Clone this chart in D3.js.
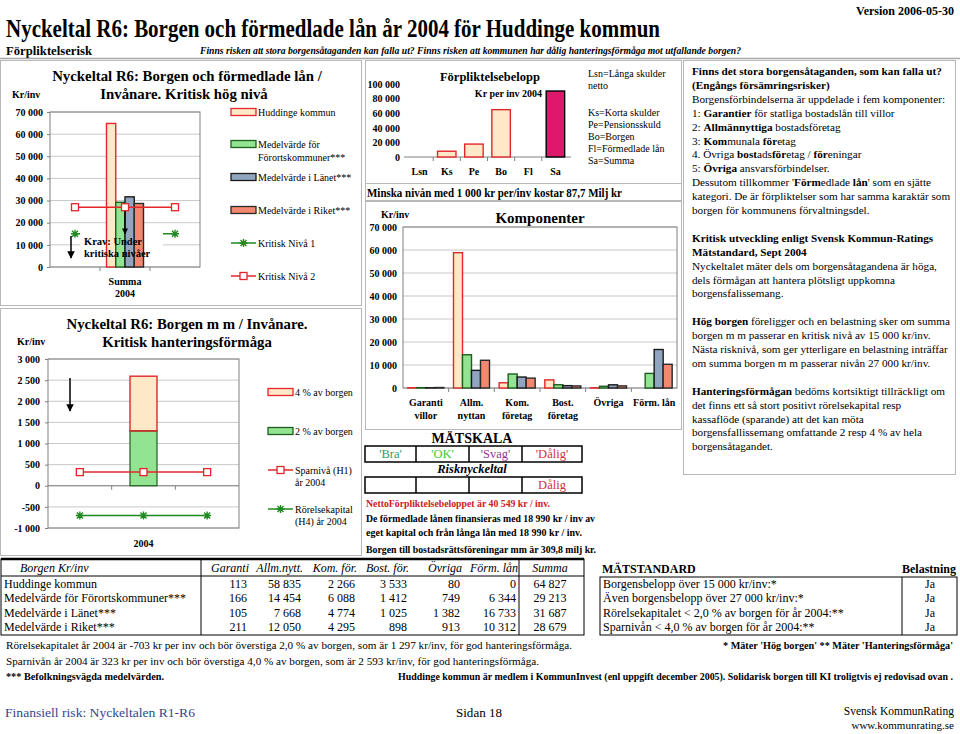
<!DOCTYPE html>
<html><head><meta charset="utf-8">
<script src="https://cdn.jsdelivr.net/npm/d3@7"></script>
<style>
body{margin:0;background:#fff;}
svg{display:block;font-family:"Liberation Serif","Times New Roman",serif;}
</style></head><body>
<svg id="c" width="960" height="734"></svg>
<script>
// ---------------- DATA ----------------
const seriesNames = ["Huddinge kommun","Medelvärde för Förortskommuner***","Medelvärde i Länet***","Medelvärde i Riket***"];
const compCategories = ["Garanti villor","Allm. nyttan","Kom. företag","Bost. företag","Övriga","Förm. lån"];
const compLabelLines = [["Garanti","villor"],["Allm.","nyttan"],["Kom.","företag"],["Bost.","företag"],["Övriga"],["Förm. lån"]];
const huddinge = [113,58835,2266,3533,80,0];
const forort   = [166,14454,6088,1412,749,6344];
const lanet    = [105,7668,4774,1025,1382,16733];
const riket    = [211,12050,4295,898,913,10312];
const summa    = [64827,29213,31687,28679];
const kritiskNiva1 = [15000,15000,15000];
const kritiskNiva2 = [27000,27000,27000];
const forplCategories = ["Lsn","Ks","Pe","Bo","Fl","Sa"];
const forplValues = [0,7900,17700,64827,0,90400];
const hantCategories = ["a","2004","b"];
const borgen4pct = 2593;
const borgen2pct = 1297;
const sparniva = [323,323,323];
const rorelsekapital = [-703,-703,-703];
const p1Ticks = [0,10000,20000,30000,40000,50000,60000,70000];
const p2Ticks = [-1000,-500,0,500,1000,1500,2000,2500,3000];
const forplTicks = [0,20000,40000,60000,80000,100000];
const compTicks = [0,10000,20000,30000,40000,50000,60000,70000];
const tableHeaders = ["Garanti","Allm.nytt.","Kom. för.","Bost. för.","Övriga","Förm. lån"];
const matstandardRows = ["Borgensbelopp över 15 000 kr/inv:*","Även borgensbelopp över 27 000 kr/inv:*","Rörelsekapitalet < 2,0 % av borgen för år 2004:**","Sparnivån < 4,0 % av borgen för år 2004:**"];
const belastning = ["Ja","Ja","Ja","Ja"];
const matskala = ["'Bra'","'OK'","'Svag'","'Dålig'"];
const risknyckeltal = ["","","","Dålig"];

// ---------------- STYLE ----------------
const seriesFill   = ["#FFE8C8","#92E492","#90A6C0","#F3876F"];
const seriesStroke = ["#E3262A","#1E5E1E","#1A1A1A","#2A2A2A"];
const RED = "#E3262A", GREEN = "#1F8A1F", GRID = "#C8C8C8", AX = "#808080", FRAME="#B8B8B8";
const matskalaColors = ["#339966","#33CC33","#993399","#CC3344"];

const loc = d3.formatLocale({decimal:",",thousands:"\u00a0",grouping:[3],currency:["",""],minus:"-"});
const fmt = loc.format(",d");

const svg = d3.select("#c");
const defs = svg.append("defs");
defs.append("marker").attr("id","ah").attr("viewBox","0 0 10 10").attr("refX",9).attr("refY",5)
  .attr("markerWidth",5).attr("markerHeight",5).attr("orient","auto")
  .append("path").attr("d","M0,0L10,5L0,10z").attr("fill","#000");

function txt(g,x,y,s,o={}){
  const t=g.append("text").attr("x",x).attr("y",y).text(s)
    .attr("font-size",o.size||11).attr("text-anchor",o.anchor||"start").attr("fill",o.fill||"#000");
  if(o.bold) t.attr("font-weight","bold");
  if(o.italic) t.attr("font-style","italic");
  if(o.len) t.attr("textLength",o.len).attr("lengthAdjust","spacingAndGlyphs");
  return t;
}
function frame(x0,y0,x1,y1,c){svg.append("rect").attr("x",x0).attr("y",y0).attr("width",x1-x0).attr("height",y1-y0).attr("fill","none").attr("stroke",c||FRAME);}
function yAxis(g,scale,ticks,x,size,pad){
  const ax=g.append("g").attr("transform",`translate(${x},0)`)
    .call(d3.axisLeft(scale).tickValues(ticks).tickFormat(fmt).tickSize(size).tickPadding(pad));
  ax.select(".domain").remove();
  ax.selectAll("line").attr("stroke",AX);
  ax.selectAll("text").attr("font-size",10).attr("font-weight","bold").attr("font-family","Liberation Serif").attr("fill","#000");
}
function grid(g,scale,ticks,x0,x1){
  g.selectAll(null).data(ticks).join("line").attr("x1",x0).attr("x2",x1)
    .attr("y1",d=>scale(d)).attr("y2",d=>scale(d)).attr("stroke",GRID);
}
function star(g,x,y,c){g.append("path").attr("d",`M${x-4},${y}H${x+4}M${x},${y-4}V${y+4}M${x-3},${y-3}L${x+3},${y+3}M${x-3},${y+3}L${x+3},${y-3}`).attr("stroke",c).attr("stroke-width",1.4).attr("fill","none");}
function square(g,x,y,c){g.append("rect").attr("x",x-3.5).attr("y",y-3.5).attr("width",7).attr("height",7).attr("fill","#fff").attr("stroke",c).attr("stroke-width",1.3);}
function swatch(g,x,y,fill,stroke){g.append("rect").attr("x",x).attr("y",y-3.5).attr("width",25).attr("height",7).attr("fill",fill).attr("stroke",stroke).attr("stroke-width",1.3);}

// ---------------- HEADER ----------------
txt(svg,954,15,"Version 2006-05-30",{size:12,bold:true,anchor:"end"});
txt(svg,6,37,"Nyckeltal R6: Borgen och förmedlade lån år 2004 för Huddinge kommun",{size:25,bold:true,len:654});
txt(svg,6,55,"Förpliktelserisk",{size:12.5,bold:true,len:86});
txt(svg,200,54,"Finns risken att stora borgensåtaganden kan falla ut? Finns risken att kommunen har dålig hanteringsförmåga mot utfallande borgen?",{size:10,bold:true,italic:true,len:541});
svg.append("line").attr("x1",0).attr("x2",960).attr("y1",58.5).attr("y2",58.5).attr("stroke","#A8A8A8").attr("stroke-width",1.5);

// frames
frame(0.5,60.5,361.5,305.5);
frame(0.5,308.5,361.5,555.5);
frame(365.5,60.5,681.5,183.5);
frame(365.5,183.5,681.5,200.5);
frame(365.5,201.5,681.5,429.5);
frame(683.5,60.5,955.5,474.5);

// ---------------- PANEL 1 ----------------
{
  const g=svg.append("g");
  const y=d3.scaleLinear().domain([0,70000]).range([267,112]);
  const x=d3.scaleBand().domain(d3.range(3)).range([50,200]);
  const xs=d3.scaleBand().domain(seriesNames).range([-18.5,18.5]);
  const cx=i=>x(i)+x.bandwidth()/2;
  grid(g,y,p1Ticks,50,200);
  g.append("rect").attr("x",50).attr("y",112).attr("width",150).attr("height",155).attr("fill","none").attr("stroke",AX);
  [1,2].forEach(i=>g.append("line").attr("x1",x(i)).attr("x2",x(i)).attr("y1",267).attr("y2",271).attr("stroke",AX));
  yAxis(g,y,p1Ticks,50,3,4);
  const line=d3.line().x((d,i)=>cx(i)).y(d=>y(d));
  g.append("path").attr("d",line(kritiskNiva1)).attr("stroke",GREEN).attr("stroke-width",1.5).attr("fill","none");
  kritiskNiva1.forEach((d,i)=>star(g,cx(i),y(d),GREEN));
  g.append("rect").attr("x",80).attr("y",232).attr("width",83).attr("height",30).attr("fill","#fff");
  summa.forEach((v,k)=>{
    g.append("rect").attr("x",cx(1)+xs(seriesNames[k])).attr("width",xs.bandwidth())
      .attr("y",y(v)).attr("height",y(0)-y(v)).attr("fill",seriesFill[k]).attr("stroke",seriesStroke[k]).attr("stroke-width",1.4);
  });
  g.append("path").attr("d",line(kritiskNiva2)).attr("stroke",RED).attr("stroke-width",1.5).attr("fill","none");
  kritiskNiva2.forEach((d,i)=>square(g,cx(i),y(d),RED));
  g.append("line").attr("x1",125).attr("x2",125).attr("y1",y(27000)+4).attr("y2",y(15000)).attr("stroke","#000").attr("stroke-width",1.2).attr("marker-end","url(#ah)");
  g.append("line").attr("x1",71).attr("x2",71).attr("y1",236).attr("y2",258).attr("stroke","#000").attr("stroke-width",1.5).attr("marker-end","url(#ah)");
  txt(g,84,245,"Krav: Under",{size:10.5,bold:true});
  txt(g,84,257,"kritiska nivåer",{size:10.5,bold:true});
  txt(g,125,285,"Summa",{size:10,bold:true,anchor:"middle"});
  txt(g,125,297,"2004",{size:10,bold:true,anchor:"middle"});
  txt(g,187,81,"Nyckeltal R6: Borgen och förmedlade lån /",{size:14.8,bold:true,anchor:"middle"});
  txt(g,184,99,"Invånare. Kritisk hög nivå",{size:14.8,bold:true,anchor:"middle"});
  txt(g,12,98,"Kr/inv",{size:10,bold:true});
  const ly=[112,144,177,210];
  seriesNames.forEach((n,k)=>swatch(g,231,ly[k],seriesFill[k],seriesStroke[k]));
  txt(g,258,116,"Huddinge kommun",{size:10});
  txt(g,258,148,"Medelvärde för",{size:10});
  txt(g,258,161,"Förortskommuner***",{size:10});
  txt(g,258,181,"Medelvärde i Länet***",{size:10});
  txt(g,258,214,"Medelvärde i Riket***",{size:10});
  g.append("line").attr("x1",231).attr("x2",256).attr("y1",243).attr("y2",243).attr("stroke",GREEN).attr("stroke-width",1.5);
  star(g,243.5,243,GREEN);
  txt(g,258,247,"Kritisk Nivå 1",{size:10});
  g.append("line").attr("x1",231).attr("x2",256).attr("y1",276).attr("y2",276).attr("stroke",RED).attr("stroke-width",1.5);
  square(g,243.5,276,RED);
  txt(g,258,280,"Kritisk Nivå 2",{size:10});
}

// ---------------- PANEL 2 ----------------
{
  const g=svg.append("g");
  const y=d3.scaleLinear().domain([-1000,3000]).range([528,359]);
  const x=d3.scaleBand().domain(hantCategories).range([48,239]);
  const cx=i=>x(hantCategories[i])+x.bandwidth()/2;
  grid(g,y,p2Ticks,48,239);
  g.append("rect").attr("x",48).attr("y",359).attr("width",191).attr("height",169).attr("fill","none").attr("stroke",AX);
  g.append("line").attr("x1",48).attr("x2",239).attr("y1",y(0)).attr("y2",y(0)).attr("stroke",AX);
  [1,2].forEach(i=>g.append("line").attr("x1",x(hantCategories[i])).attr("x2",x(hantCategories[i])).attr("y1",y(0)).attr("y2",y(0)+4).attr("stroke",AX));
  yAxis(g,y,p2Ticks,48,3,5);
  const bx=cx(1)-13.5;
  g.append("rect").attr("x",bx).attr("width",27).attr("y",y(borgen4pct)).attr("height",y(borgen2pct)-y(borgen4pct)).attr("fill",seriesFill[0]).attr("stroke",RED).attr("stroke-width",1.4);
  g.append("rect").attr("x",bx).attr("width",27).attr("y",y(borgen2pct)).attr("height",y(0)-y(borgen2pct)).attr("fill",seriesFill[1]).attr("stroke",seriesStroke[1]).attr("stroke-width",1.2);
  g.append("line").attr("x1",bx).attr("x2",bx+27).attr("y1",y(borgen2pct)).attr("y2",y(borgen2pct)).attr("stroke",RED).attr("stroke-width",1.4);
  const line=d3.line().x((d,i)=>cx(i)).y(d=>y(d));
  g.append("path").attr("d",line(sparniva)).attr("stroke",RED).attr("stroke-width",1.5).attr("fill","none");
  sparniva.forEach((d,i)=>square(g,cx(i),y(d),RED));
  g.append("path").attr("d",line(rorelsekapital)).attr("stroke",GREEN).attr("stroke-width",1.5).attr("fill","none");
  rorelsekapital.forEach((d,i)=>star(g,cx(i),y(d),GREEN));
  g.append("line").attr("x1",70).attr("x2",70).attr("y1",378).attr("y2",411).attr("stroke","#000").attr("stroke-width",1.5).attr("marker-end","url(#ah)");
  txt(g,143.5,547,"2004",{size:10,bold:true,anchor:"middle"});
  txt(g,187,329,"Nyckeltal R6: Borgen m m / Invånare.",{size:14.8,bold:true,anchor:"middle"});
  txt(g,187,347,"Kritisk hanteringsförmåga",{size:14.8,bold:true,anchor:"middle"});
  txt(g,17,345,"Kr/inv",{size:10,bold:true});
  swatch(g,268,392,seriesFill[0],RED);
  txt(g,295,396,"4 % av borgen",{size:10});
  swatch(g,268,431,seriesFill[1],seriesStroke[1]);
  txt(g,295,435,"2 % av borgen",{size:10});
  g.append("line").attr("x1",268).attr("x2",293).attr("y1",470).attr("y2",470).attr("stroke",RED).attr("stroke-width",1.5);
  square(g,280.5,470,RED);
  txt(g,295,474,"Sparnivå (H1)",{size:10});
  txt(g,295,486,"år 2004",{size:10});
  g.append("line").attr("x1",268).attr("x2",293).attr("y1",509).attr("y2",509).attr("stroke",GREEN).attr("stroke-width",1.5);
  star(g,280.5,509,GREEN);
  txt(g,295,513,"Rörelsekapital",{size:10});
  txt(g,295,525,"(H4) år 2004",{size:10});
}

// ---------------- PANEL 3 : Förpliktelsebelopp ----------------
{
  const g=svg.append("g");
  const y=d3.scaleLinear().domain([0,100000]).range([157,84]);
  const x=d3.scaleBand().domain(forplCategories).range([406,569]).paddingInner(0.32).paddingOuter(0.16);
  g.append("line").attr("x1",404).attr("x2",571).attr("y1",157).attr("y2",157).attr("stroke",AX);
  forplCategories.slice(1).forEach(c=>{const bx=x(c)-x.step()*x.paddingInner()/2;g.append("line").attr("x1",bx).attr("x2",bx).attr("y1",157).attr("y2",161).attr("stroke",AX);});
  yAxis(g,y,forplTicks,403,0,3);
  forplValues.forEach((v,i)=>{ if(v<=0) return;
    const last=forplCategories[i]==="Sa";
    g.append("rect").attr("x",x(forplCategories[i])).attr("width",x.bandwidth()).attr("y",y(v)).attr("height",y(0)-y(v))
      .attr("fill",last?"#E0186C":seriesFill[0]).attr("stroke",last?"#000":RED).attr("stroke-width",1.4);
  });
  forplCategories.forEach(c=>txt(g,x(c)+x.bandwidth()/2,175,c,{size:10,bold:true,anchor:"middle"}));
  txt(g,490,81,"Förpliktelsebelopp",{size:12.5,bold:true,anchor:"middle"});
  txt(g,542,97,"Kr per inv 2004",{size:10,bold:true,anchor:"end"});
  const leg=[["Lsn=Långa skulder",77],["netto",89],["Ks=Korta skulder",116],["Pe=Pensionsskuld",128],["Bo=Borgen",140],["Fl=Förmedlade lån",152],["Sa=Summa",164]];
  leg.forEach(([s,yy])=>txt(g,588,yy,s,{size:10}));
}
txt(svg,367,197,"Minska nivån med 1 000 kr per/inv kostar 87,7 Milj kr",{size:11.5,bold:true,len:255});

// ---------------- PANEL 4 : Komponenter ----------------
{
  const g=svg.append("g");
  const y=d3.scaleLinear().domain([0,70000]).range([388,227]);
  const x=d3.scaleBand().domain(compCategories).range([403,677]);
  const xs=d3.scaleBand().domain(seriesNames).range([-18,18]);
  grid(g,y,compTicks,403,677);
  g.append("rect").attr("x",403).attr("y",227).attr("width",274).attr("height",161).attr("fill","none").attr("stroke",AX);
  compCategories.slice(1).forEach(c=>g.append("line").attr("x1",x(c)).attr("x2",x(c)).attr("y1",388).attr("y2",392).attr("stroke",AX));
  yAxis(g,y,compTicks,403,0,6);
  const all=[huddinge,forort,lanet,riket];
  all.forEach((arr,k)=>arr.forEach((v,i)=>{ if(v<=0) return;
    const c=x(compCategories[i])+x.bandwidth()/2;
    g.append("rect").attr("x",c+xs(seriesNames[k])).attr("width",xs.bandwidth()).attr("y",y(v)).attr("height",y(0)-y(v))
      .attr("fill",seriesFill[k]).attr("stroke",seriesStroke[k]).attr("stroke-width",1.4);
  }));
  compLabelLines.forEach((ls,i)=>{const c=x(compCategories[i])+x.bandwidth()/2;
    ls.forEach((s,j)=>txt(g,c,406+j*13,s,{size:10,bold:true,anchor:"middle"}));});
  txt(g,540,223,"Komponenter",{size:15,bold:true,anchor:"middle"});
  txt(g,381,218,"Kr/inv",{size:10,bold:true});
}

// ---------------- MÄTSKALA ----------------
{
  const g=svg.append("g");
  txt(g,472,443,"MÄTSKALA",{size:14,bold:true,anchor:"middle"});
  const xs=[365,416,469,522,582];
  [[446,462],[477,493]].forEach(([a,b])=>{
    g.append("rect").attr("x",xs[0]).attr("y",a).attr("width",xs[4]-xs[0]).attr("height",b-a).attr("fill","none").attr("stroke","#000").attr("stroke-width",1.5);
    xs.slice(1,4).forEach(v=>g.append("line").attr("x1",v).attr("x2",v).attr("y1",a).attr("y2",b).attr("stroke","#000").attr("stroke-width",1.5));
  });
  matskala.forEach((s,i)=>txt(g,(xs[i]+xs[i+1])/2,458,s,{size:12.5,anchor:"middle",fill:matskalaColors[i]}));
  txt(g,472,473,"Risknyckeltal",{size:12.5,bold:true,italic:true,anchor:"middle"});
  risknyckeltal.forEach((s,i)=>txt(g,(xs[i]+xs[i+1])/2,489,s,{size:12.5,anchor:"middle",fill:matskalaColors[3]}));
  txt(g,366,507,"NettoFörpliktelsebeloppet är 40 549 kr / inv.",{size:10,bold:true,fill:"#CC2222",len:184});
  txt(g,366,522,"De förmedlade lånen finansieras med 18 990 kr / inv av",{size:10,bold:true,len:229});
  txt(g,366,536,"eget kapital och från långa lån med 18 990 kr / inv.",{size:10,bold:true,len:216});
  txt(g,366,553,"Borgen till bostadsrättsföreningar mm är 309,8 milj kr.",{size:10,bold:true,len:230});
}

// ---------------- RIGHT INFO BOX ----------------
{
  const g=svg.append("g");
  const L=[
    [["Finns det stora borgensåtaganden, som kan falla ut?",1]],
    [["(Engångs försämringsrisker)",1]],
    [["Borgensförbindelserna är uppdelade i fem komponenter:",0]],
    [["1: ",0],["Garantier",1],[" för statliga bostadslån till villor",0]],
    [["2: ",0],["Allmännyttiga",1],[" bostadsföretag",0]],
    [["3: ",0],["Kom",1],["munala ",0],["för",1],["etag",0]],
    [["4. Övriga ",0],["bost",1],["ads",0],["för",1],["etag / ",0],["för",1],["eningar",0]],
    [["5: ",0],["Övriga",1],[" ansvarsförbindelser.",0]],
    [["Dessutom tillkommer '",0],["Förm",1],["edlade ",0],["lån",1],["' som en sjätte",0]],
    [["kategori. De är förpliktelser som har samma karaktär som",0]],
    [["borgen för kommunens förvaltningsdel.",0]],
    [],
    [["Kritisk utveckling enligt Svensk Kommun-Ratings",1]],
    [["Mätstandard, Sept 2004",1]],
    [["Nyckeltalet mäter dels om borgensåtagandena är höga,",0]],
    [["dels förmågan att hantera plötsligt uppkomna",0]],
    [["borgensfalissemang.",0]],
    [],
    [["Hög borgen",1],[" föreligger och en belastning sker om summa",0]],
    [["borgen m m passerar en kritisk nivå av 15 000 kr/inv.",0]],
    [["Nästa risknivå, som ger ytterligare en belastning inträffar",0]],
    [["om summa borgen m m passerar nivån 27 000 kr/inv.",0]],
    [],
    [["Hanteringsförmågan",1],[" bedöms kortsiktigt tillräckligt om",0]],
    [["det finns ett så stort positivt rörelsekapital resp",0]],
    [["kassaflöde (sparande) att det kan möta",0]],
    [["borgensfallissemang omfattande 2 resp 4 % av hela",0]],
    [["borgensåtagandet.",0]]
  ];
  L.forEach((segs,i)=>{ if(!segs.length) return;
    const t=g.append("text").attr("x",692).attr("y",75+i*13.9).attr("font-size",11.2);
    segs.forEach(([s,b])=>t.append("tspan").text(s).attr("font-weight",b?"bold":null));
  });
}

// ---------------- BOTTOM TABLE (left) ----------------
{
  const g=svg.append("g");
  const top=559, hdrB=576, bot=635, x0=1, x1=584, sep1=201, sepS=519;
  g.append("rect").attr("x",x0).attr("y",top).attr("width",x1-x0).attr("height",bot-top).attr("fill","none").attr("stroke","#000");
  g.append("line").attr("x1",x0).attr("x2",x1).attr("y1",top).attr("y2",top).attr("stroke","#000").attr("stroke-width",2.5);
  g.append("line").attr("x1",x0).attr("x2",x1).attr("y1",hdrB).attr("y2",hdrB).attr("stroke","#000");
  [sep1,sepS].forEach(v=>g.append("line").attr("x1",v).attr("x2",v).attr("y1",top).attr("y2",bot).attr("stroke","#000"));
  const colR=[247,301,355,407,460,516], sumC=550;
  txt(g,20,572,"Borgen Kr/inv",{size:12,italic:true});
  tableHeaders.forEach((h,i)=>txt(g,colR[i]+2,572,h,{size:12,italic:true,anchor:"end"}));
  txt(g,sumC,572,"Summa",{size:12,italic:true,anchor:"middle"});
  const rows=[huddinge,forort,lanet,riket];
  const ry=[588,602,616.5,631];
  rows.forEach((arr,r)=>{
    txt(g,4,ry[r],seriesNames[r],{size:12});
    arr.forEach((v,i)=>txt(g,colR[i],ry[r],fmt(v),{size:12,anchor:"end"}));
    txt(g,sumC,ry[r],fmt(summa[r]),{size:12,anchor:"middle"});
  });
}

// ---------------- MÄTSTANDARD (right) ----------------
{
  const g=svg.append("g");
  txt(g,602,573,"MÄTSTANDARD",{size:12,bold:true});
  txt(g,956,573,"Belastning",{size:12,bold:true,anchor:"end"});
  g.append("rect").attr("x",600).attr("y",577).attr("width",357).attr("height",58).attr("fill","none").attr("stroke","#000");
  g.append("line").attr("x1",902).attr("x2",902).attr("y1",577).attr("y2",635).attr("stroke","#000");
  const ry=[588,602,616.5,631];
  matstandardRows.forEach((s,i)=>{txt(g,603,ry[i],s,{size:12});txt(g,930,ry[i],belastning[i],{size:12,anchor:"middle"});});
}

// ---------------- FOOTER ----------------
txt(svg,6,649,"Rörelsekapitalet år 2004 är -703 kr per inv och bör överstiga 2,0 % av borgen, som är 1 297 kr/inv, för god hanteringsförmåga.",{size:10.5,len:566});
txt(svg,953,649,"* Mäter 'Hög borgen'    ** Mäter 'Hanteringsförmåga'",{size:9.5,bold:true,anchor:"end",len:230});
txt(svg,6,665,"Sparnivån år 2004 är 323 kr per inv och bör överstiga 4,0 % av borgen, som är 2 593 kr/inv, för god hanteringsförmåga.",{size:10.5,len:533});
txt(svg,6,680,"*** Befolkningsvägda medelvärden.",{size:10,bold:true,len:158});
txt(svg,953,680,"Huddinge kommun är medlem i KommunInvest (enl uppgift december 2005). Solidarisk borgen till KI troligtvis ej redovisad ovan .",{size:10,bold:true,anchor:"end",len:555});
txt(svg,5,717,"Finansiell risk: Nyckeltalen R1-R6",{size:13,fill:"#34468C",len:190});
txt(svg,479,717,"Sidan 18",{size:13,anchor:"middle",len:46});
txt(svg,954,715,"Svensk KommunRating",{size:11.5,anchor:"end"});
txt(svg,954,729,"www.kommunrating.se",{size:11,anchor:"end"});
</script></body></html>
